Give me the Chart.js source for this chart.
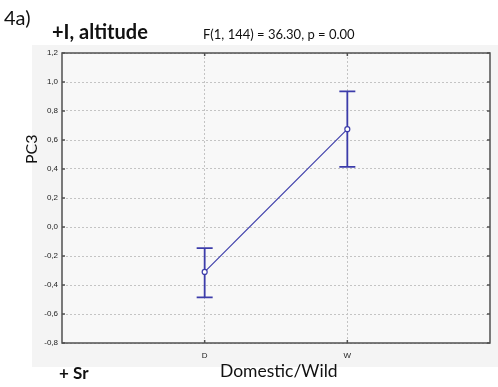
<!DOCTYPE html>
<html>
<head>
<meta charset="utf-8">
<script src="https://cdn.jsdelivr.net/npm/chart.js@4"></script>
<style>
    body { margin: 0; background: #fff; }
    #wrap { position: relative; width: 498px; height: 387px; overflow: hidden; font-family: Lato, sans-serif; color: #111; }
    #panel { position: absolute; left: 32px; top: 45px; width: 466px; height: 322px; background: #f4f4f4; }
    canvas { position: absolute; left: 0; top: 0; }
    .lbl { position: absolute; white-space: nowrap; line-height: 1; }
</style>
</head>
<body>
<div id="wrap">
    <div id="panel"></div>
    <canvas id="myChart" width="498" height="387"></canvas>
    <div class="lbl" style="left:4px; top:7px; font-size:20px;">4a)</div>
    <div class="lbl" style="left:52px; top:21px; font-size:20px; font-weight:bold;">+I, altitude</div>
    <div class="lbl" style="left:203px; top:28px; font-size:13px;">F(1, 144) = 36.30, p = 0.00</div>
    <div class="lbl" style="left:23px; top:164px; font-size:16px; transform: rotate(-90deg); transform-origin: left top;">PC3</div>
    <div class="lbl" style="left:59px; top:364px; font-size:17px; font-weight:bold;">+ Sr</div>
    <div class="lbl" style="left:220px; top:362px; font-size:17.5px;">Domestic/Wild</div>
</div>
<script>
// values
var categories = ['D', 'W'];
var means = [-0.31, 0.675];
var upper = [-0.145, 0.935];
var lower = [-0.485, 0.415];
var yTicks = [-0.8, -0.6, -0.4, -0.2, 0.0, 0.2, 0.4, 0.6, 0.8, 1.0, 1.2];

var lineColor = 'rgb(60,60,170)';

// error bars, drawn through the chart's own scales
const errorBars = {
    id: 'errorBars',
    beforeDatasetsDraw(chart) {
        const ctx = chart.ctx;
        const xs = chart.scales.x, ys = chart.scales.y;
        ctx.save();
        ctx.strokeStyle = lineColor;
        ctx.lineWidth = 1.8;
        categories.forEach(function (c, i) {
            var x = xs.getPixelForValue(i + 1);
            var yu = ys.getPixelForValue(upper[i]);
            var yl = ys.getPixelForValue(lower[i]);
            ctx.beginPath();
            ctx.moveTo(x, yu); ctx.lineTo(x, yl);
            ctx.moveTo(x - 8, yu); ctx.lineTo(x + 8, yu);
            ctx.moveTo(x - 8, yl); ctx.lineTo(x + 8, yl);
            ctx.stroke();
        });
        ctx.restore();
    }
};

// plot background and the full frame
const frame = {
    id: 'frame',
    beforeDraw(chart) {
        const a = chart.chartArea, ctx = chart.ctx;
        ctx.save();
        ctx.fillStyle = '#f8f8f8';
        ctx.fillRect(a.left, a.top, a.right - a.left, a.bottom - a.top);
        ctx.restore();
    },
    afterDraw(chart) {
        const a = chart.chartArea, ctx = chart.ctx;
        ctx.save();
        ctx.strokeStyle = '#505050';
        ctx.lineWidth = 1.5;
        ctx.strokeRect(a.left, a.top, a.right - a.left, a.bottom - a.top);
        // small inward tick marks
        ctx.beginPath();
        yTicks.forEach(function (v) {
            var y = chart.scales.y.getPixelForValue(v);
            ctx.moveTo(a.left, y); ctx.lineTo(a.left + 3, y);
            ctx.moveTo(a.right, y); ctx.lineTo(a.right - 3, y);
        });
        categories.forEach(function (c, i) {
            var x = chart.scales.x.getPixelForValue(i + 1);
            ctx.moveTo(x, a.top); ctx.lineTo(x, a.top + 3);
            ctx.moveTo(x, a.bottom); ctx.lineTo(x, a.bottom - 3);
        });
        ctx.stroke();
        ctx.restore();
    }
};

const ctx = document.getElementById('myChart').getContext('2d');
const myChart = new Chart(ctx, {
    type: 'line',
    data: {
        datasets: [{
            data: categories.map(function (c, i) { return { x: i + 1, y: means[i] }; }),
            borderColor: lineColor,
            borderWidth: 1.2,
            backgroundColor: '#ffffff',
            pointBackgroundColor: '#ffffff',
            pointBorderColor: lineColor,
            pointBorderWidth: 1.2,
            pointRadius: 2.5,
            tension: 0
        }]
    },
    options: {
        responsive: false,
        animation: false,
        layout: { padding: { left: 0, top: 53, right: 3, bottom: 0 } },
        plugins: {
            legend: { display: false },
            tooltip: { enabled: false }
        },
        scales: {
            x: {
                type: 'linear',
                min: 0,
                max: 3,
                afterBuildTicks: function (s) { s.ticks = [0, 1, 2, 3].map(function (v) { return { value: v }; }); },
                afterFit: function (s) { s.height = 44; },
                grid: {
                    drawTicks: false,
                    color: function (c) { return (c.tick && (c.tick.value === 1 || c.tick.value === 2)) ? '#c4c4c4' : 'rgba(0,0,0,0)'; },
                    lineWidth: 1
                },
                border: { display: false, dash: [2, 2] },
                ticks: {
                    padding: 8,
                    color: '#222',
                    font: { family: 'Liberation Sans', size: 8 },
                    callback: function (v) { return categories[v - 1] || ''; }
                }
            },
            y: {
                min: -0.8,
                max: 1.2,
                afterBuildTicks: function (s) { s.ticks = yTicks.map(function (v) { return { value: v }; }); },
                afterFit: function (s) { s.width = 62; },
                grid: {
                    drawTicks: false,
                    color: '#c4c4c4',
                    lineWidth: 1
                },
                border: { display: false, dash: [2, 2] },
                ticks: {
                    padding: 4,
                    color: '#222',
                    font: { family: 'Liberation Sans', size: 8 },
                    callback: function (v) { return v.toFixed(1).replace('.', ','); }
                }
            }
        }
    },
    plugins: [frame, errorBars]
});
</script>
</body>
</html>
